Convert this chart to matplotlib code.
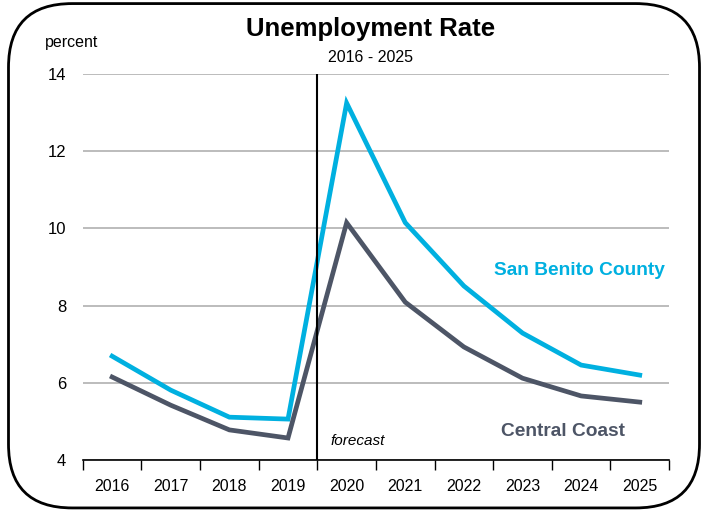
import matplotlib
matplotlib.use('Agg')
import matplotlib.pyplot as plt
from matplotlib.patches import FancyBboxPatch
from matplotlib import font_manager

years = ['2016', '2017', '2018', '2019', '2020', '2021', '2022', '2023', '2024', '2025']
san_benito = [6.69, 5.81, 5.11, 5.06, 13.25, 10.15, 8.51, 7.29, 6.46, 6.20]
central_coast = [6.15, 5.42, 4.78, 4.57, 10.15, 8.09, 6.93, 6.12, 5.66, 5.50]
yticks = [4, 6, 8, 10, 12, 14]

blue = '#00B0E0'
slate = '#4D5566'

names = {f.name for f in font_manager.fontManager.ttflist}
font = 'Liberation Sans Narrow' if 'Liberation Sans Narrow' in names else 'Liberation Sans'
plt.rcParams['font.family'] = [font, 'DejaVu Sans']

fig = plt.figure(figsize=(7.08, 5.11), dpi=100)
ax = fig.add_axes([0.117, 0.0998, 0.828, 0.7552])

x = list(range(len(years)))
ax.plot(x, san_benito, color=blue, linewidth=3.4, solid_joinstyle='miter', zorder=3)
ax.plot(x, central_coast, color=slate, linewidth=3.4, solid_joinstyle='miter', zorder=3)

ax.set_xlim(-0.5, len(years) - 0.5)
ax.set_ylim(4, 14)
ax.set_yticks(yticks)
ax.set_yticklabels([str(v) for v in yticks], fontsize=12)
ax.yaxis.grid(True, color='#B0B0B0', linewidth=1.2)
ax.set_axisbelow(True)
ax.tick_params(axis='y', length=0, pad=12)

# years centred between boundary ticks
ax.set_xticks([i - 0.5 for i in range(len(years) + 1)])
ax.set_xticklabels([])
ax.set_xticks(x, minor=True)
ax.set_xticklabels(years, minor=True, fontsize=11.5)
ax.tick_params(axis='x', which='major', length=7, width=1, direction='out', color='black')
ax.tick_params(axis='x', which='minor', length=0, pad=14)

for side in ['left', 'right', 'top']:
    ax.spines[side].set_visible(False)
ax.spines['bottom'].set_linewidth(1.2)

# forecast divider
ax.axvline(3.5, ymin=0, ymax=1, color='black', linewidth=1.5, zorder=4)
ax.text(3.72, 4.5, 'forecast', style='italic', fontsize=11, ha='left', va='center')

ax.text(9.43, 8.9, 'San Benito County', color=blue, fontsize=13.8, fontweight='bold',
        ha='right', va='center')
ax.text(8.75, 4.73, 'Central Coast', color=slate, fontsize=13.8, fontweight='bold',
        ha='right', va='center')

fig.text(0.523, 0.943, 'Unemployment Rate', fontsize=18.5, fontweight='bold',
         ha='center', va='center')
fig.text(0.523, 0.888, '2016 - 2025', fontsize=11.5, ha='center', va='center')
fig.text(0.101, 0.916, 'percent', fontsize=11.5, ha='center', va='center')

frame = FancyBboxPatch((0.012, 0.006), 0.976, 0.987, transform=fig.transFigure,
                       boxstyle='round,pad=0,rounding_size=0.09', facecolor='none',
                       edgecolor='black', linewidth=2, mutation_aspect=708 / 511)
fig.patches.append(frame)

fig.savefig('out.png', dpi=100)
